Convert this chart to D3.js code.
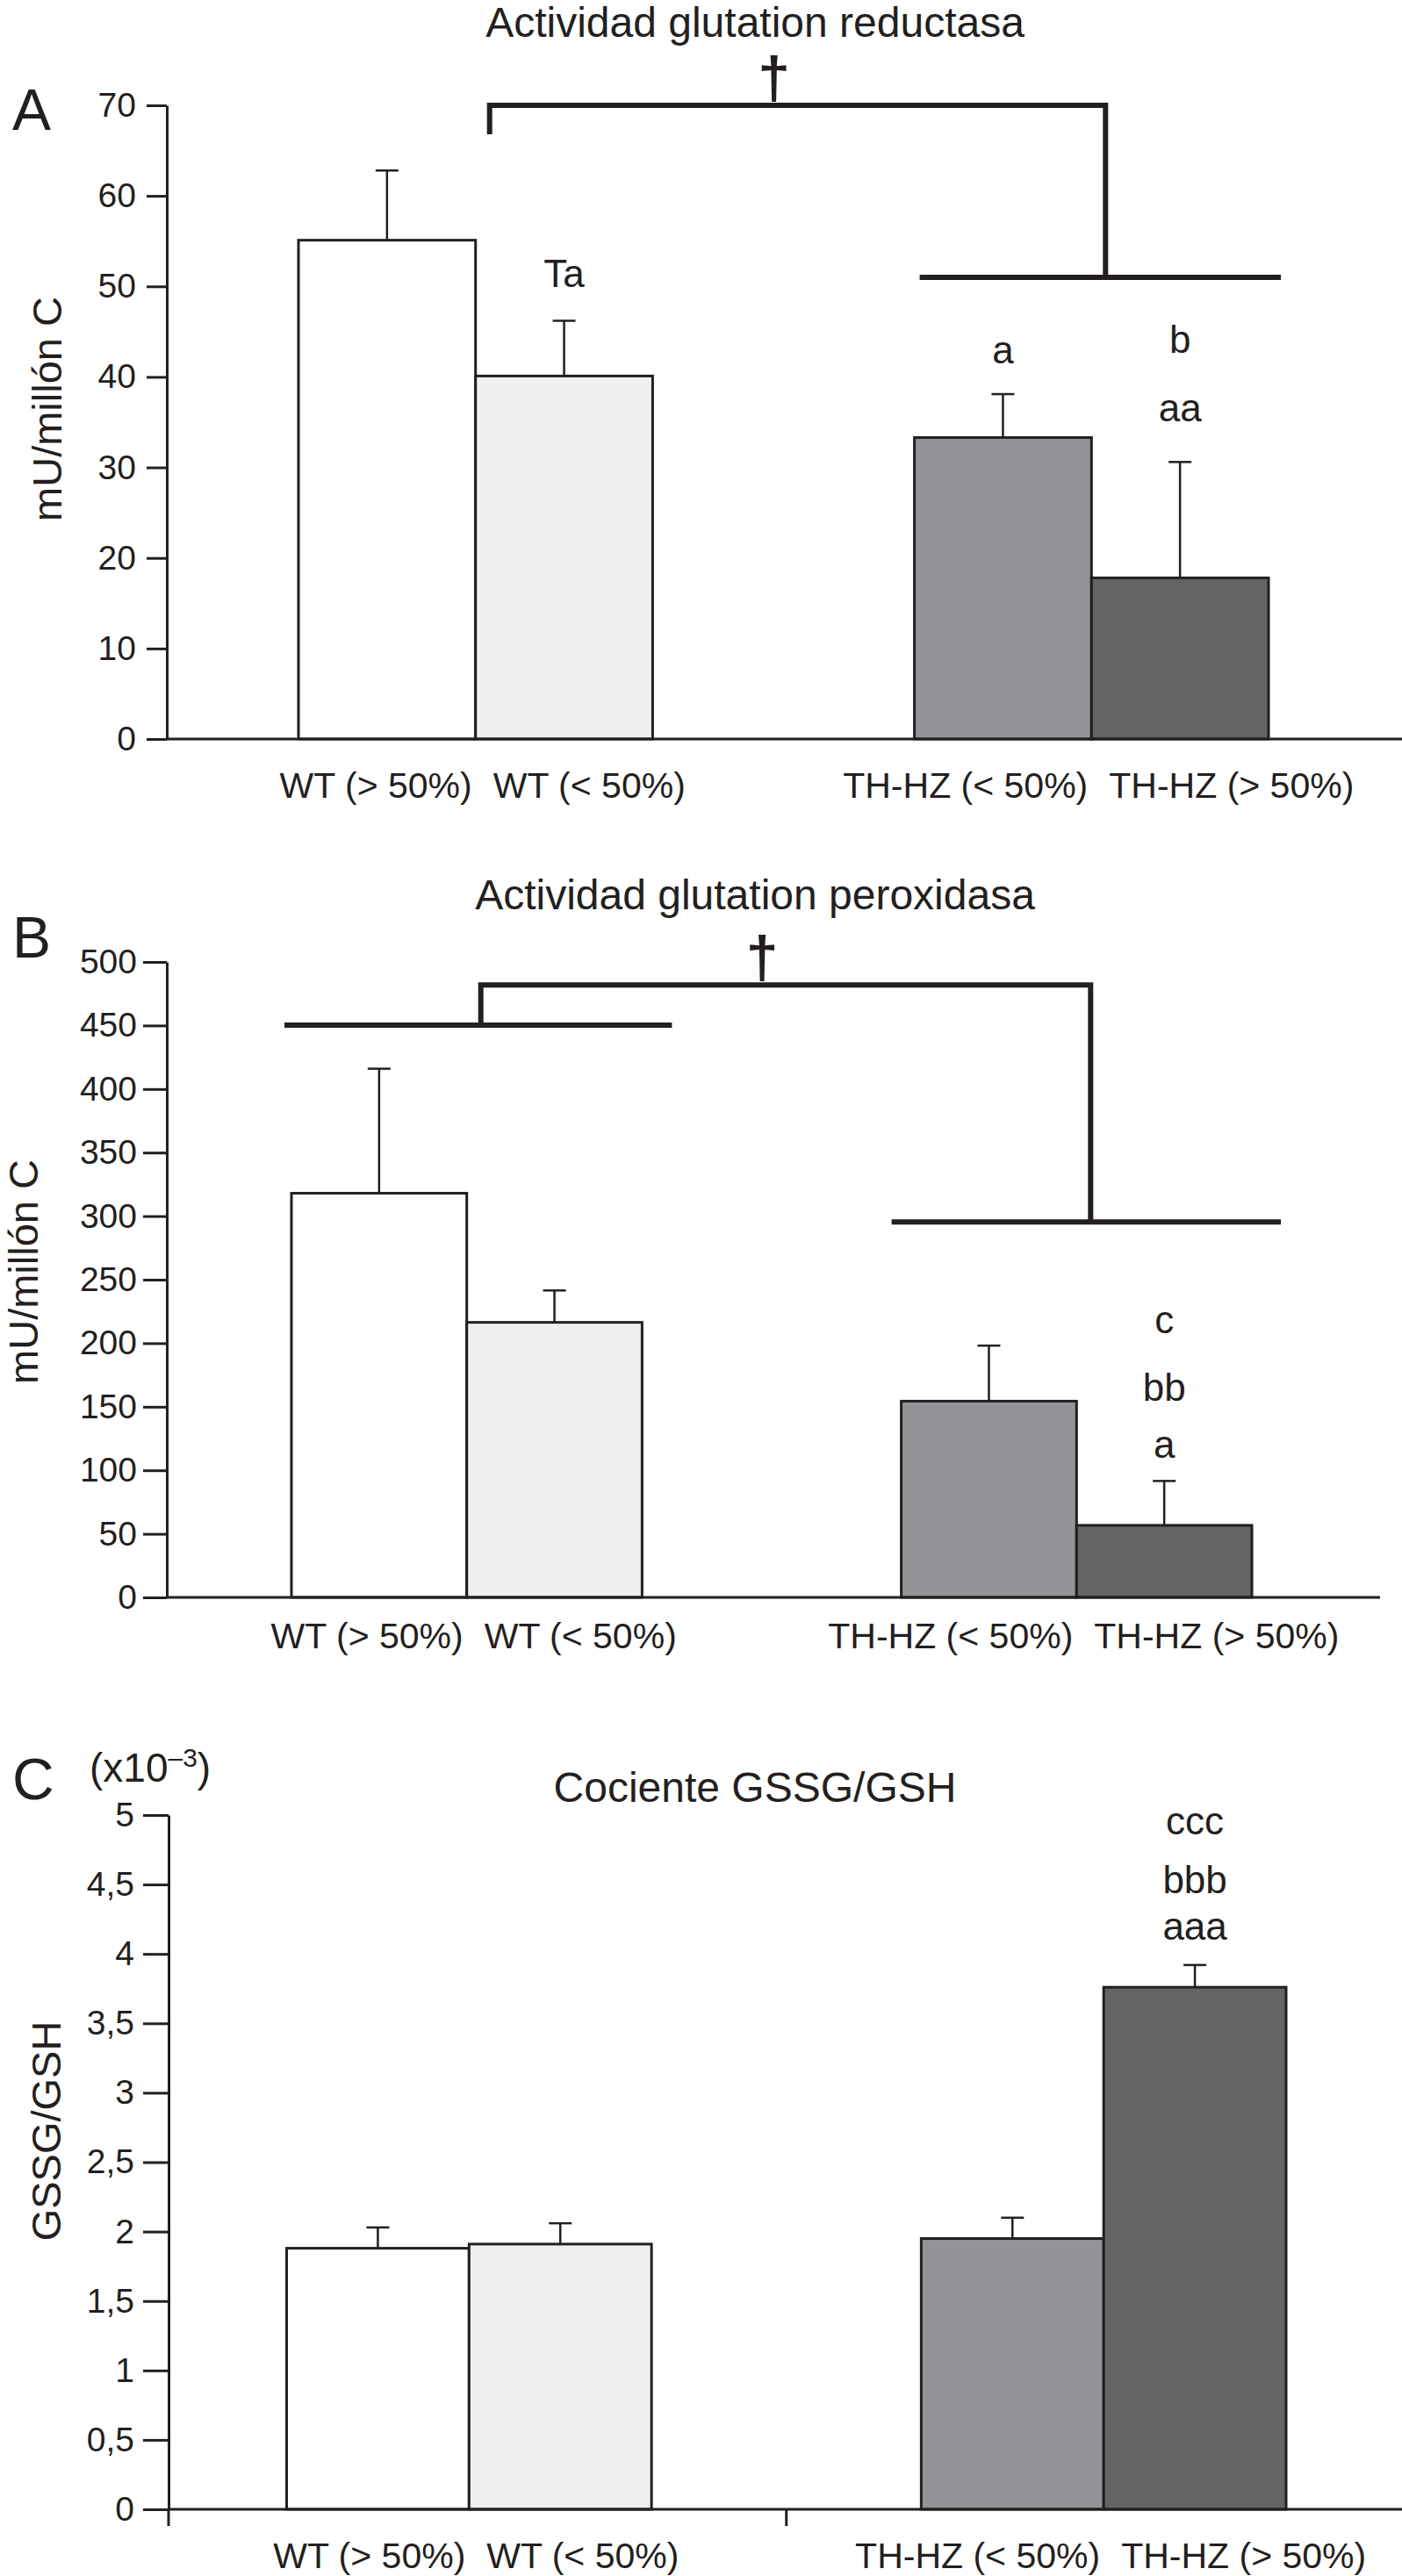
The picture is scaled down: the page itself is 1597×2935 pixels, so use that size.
<!DOCTYPE html>
<html>
<head>
<meta charset="utf-8">
<script src="https://cdn.jsdelivr.net/npm/d3@7"></script>
<style>
body { margin: 0; background: #fff; }
text { font-family: "Liberation Sans", Arial, Helvetica, sans-serif; fill: #231f20; }
</style>
</head>
<body>
<svg id="chart" width="1597" height="2935"></svg>
<script>
var groups = ["WT (> 50%)", "WT (< 50%)", "TH-HZ (< 50%)", "TH-HZ (> 50%)"];
var genotype = ["WT", "WT", "TH-HZ", "TH-HZ"];
var fills = ["#ffffff", "#eff0ef", "#939497", "#636466"];

// A: glutation reductasa (mU/millon C)
var gredMean = [55.1, 40.1, 33.3, 17.8];
var gredErr = [7.7, 6.1, 4.8, 12.8];
var gredTicks = [0, 10, 20, 30, 40, 50, 60, 70];
// B: glutation peroxidasa (mU/millon C)
var gperMean = [318, 216.4, 154.4, 56.7];
var gperErr = [98, 25.1, 43.7, 34.9];
var gperTicks = [0, 50, 100, 150, 200, 250, 300, 350, 400, 450, 500];
// C: GSSG/GSH (x10-3)
var ratioMean = [1.88, 1.91, 1.95, 3.76];
var ratioErr = [0.15, 0.15, 0.15, 0.16];
var ratioTicks = [0, 0.5, 1, 1.5, 2, 2.5, 3, 3.5, 4, 4.5, 5];

// significance letters: bar index, text, height in axis units
var gredNotes = [[1, "Ta", 49.9], [2, "a", 41.5], [3, "aa", 35.05], [3, "b", 42.7]];
var gperNotes = [[3, "a", 110.1], [3, "bb", 154.7], [3, "c", 208.1]];
var ratioNotes = [[3, "aaa", 4.10], [3, "bbb", 4.44], [3, "ccc", 4.86]];

var ink = "#231f20";
var svg = d3.select("#chart");
var es = d3.formatLocale({decimal: ",", thousands: ".", grouping: [3], currency: ["", " €"]});

var panels = [
    {letter: "A", letterY: 148, title: "Actividad glutation reductasa", titleY: 42,
     ylabel: "mU/millón C", ylabelX: 70, ylabelY: 466,
     mean: gredMean, err: gredErr, ticks: gredTicks, fmt: d3.format("d"), notes: gredNotes,
     y: d3.scaleLinear().domain([0, 70]).range([842, 120]),
     xRange: [340, 1445], axisX: 190, axisEnd: 1597, tickSize: 23, pad: 12, labelDy: 67,
     bracket: {top: 70, left: {v: 66.8}, right: {v: 51.0, ext: [-6, 14]}}},
    {letter: "B", letterY: 1091, title: "Actividad glutation peroxidasa", titleY: 1036,
     ylabel: "mU/millón C", ylabelX: 43, ylabelY: 1449,
     mean: gperMean, err: gperErr, ticks: gperTicks, fmt: d3.format("d"), notes: gperNotes,
     y: d3.scaleLinear().domain([0, 500]).range([1820, 1096]),
     xRange: [332, 1426], axisX: 190, axisEnd: 1572, tickSize: 27, pad: 7, labelDy: 58,
     bracket: {top: 481.8, left: {v: 450.2, ext: [8, 34]}, right: {v: 295.4, ext: [11, 33]}}},
    {letter: "C", letterY: 2050, title: "Cociente GSSG/GSH", titleY: 2053,
     ylabel: "GSSG/GSH", ylabelX: 69, ylabelY: 2428,
     mean: ratioMean, err: ratioErr, ticks: ratioTicks, fmt: es.format(".1~f"), notes: ratioNotes,
     y: d3.scaleLinear().domain([0, 5]).range([2859, 2068]),
     xRange: [326.5, 1465], axisX: 192, axisEnd: 1597, tickSize: 29, pad: 10, labelDy: 67,
     split: true, exponent: true}
];

function drawPanel(p) {
    var g = svg.append("g");
    var outer = d3.scaleBand().domain(["WT", "TH-HZ"]).range(p.xRange).paddingInner(0.425);
    var inner = d3.scaleBand().domain([0, 1]).range([0, outer.bandwidth()]);
    var bw = inner.bandwidth();
    var x = (i) => outer(genotype[i]) + inner(i % 2);
    var y0 = p.y(0);

    // bars
    g.selectAll("rect.bar").data(p.mean).enter().append("rect")
        .attr("class", "bar")
        .attr("x", (d, i) => x(i))
        .attr("y", (d) => p.y(d))
        .attr("width", bw)
        .attr("height", (d) => y0 - p.y(d))
        .attr("fill", (d, i) => fills[i])
        .attr("stroke", ink)
        .attr("stroke-width", 3);

    // error bars (upper only)
    var eb = g.selectAll("g.err").data(p.mean).enter().append("g").attr("class", "err")
        .attr("stroke", ink).attr("stroke-width", 2.5);
    eb.append("line")
        .attr("x1", (d, i) => x(i) + bw / 2).attr("x2", (d, i) => x(i) + bw / 2)
        .attr("y1", (d) => p.y(d)).attr("y2", (d, i) => p.y(d + p.err[i]));
    eb.append("line")
        .attr("x1", (d, i) => x(i) + bw / 2 - 13).attr("x2", (d, i) => x(i) + bw / 2 + 13)
        .attr("y1", (d, i) => p.y(d + p.err[i])).attr("y2", (d, i) => p.y(d + p.err[i]));

    // y axis
    var axis = d3.axisLeft(p.y).tickValues(p.ticks).tickFormat(p.fmt)
        .tickSize(p.tickSize).tickSizeOuter(0).tickPadding(p.pad);
    g.append("g")
        .attr("transform", "translate(" + p.axisX + ",0)")
        .call(axis)
        .attr("font-size", 39)
        .attr("font-family", "Liberation Sans, Arial, sans-serif")
        .attr("color", ink)
        .call((a) => a.selectAll("line, path").attr("stroke-width", 3));

    // baseline
    g.append("line")
        .attr("x1", p.axisX).attr("x2", p.axisEnd)
        .attr("y1", y0).attr("y2", y0)
        .attr("stroke", ink).attr("stroke-width", 3);

    if (p.split) {
        var mid = (outer("WT") + outer.bandwidth() + outer("TH-HZ")) / 2;
        g.append("path")
            .attr("d", "M" + p.axisX + "," + y0 + "v19M" + mid + "," + y0 + "v19")
            .attr("stroke", ink).attr("stroke-width", 3);
    }

    // category labels, paired around the boundary of each genotype
    g.selectAll("text.cat").data(groups).enter().append("text")
        .attr("class", "cat")
        .attr("x", (d, i) => outer(genotype[i]) + bw + 8 + (i % 2 ? 12 : -12))
        .attr("y", y0 + p.labelDy)
        .attr("text-anchor", (d, i) => i % 2 ? "start" : "end")
        .attr("font-size", 41)
        .text((d) => d);

    // significance letters
    g.selectAll("text.note").data(p.notes).enter().append("text")
        .attr("class", "note")
        .attr("x", (d) => x(d[0]) + bw / 2)
        .attr("y", (d) => p.y(d[2]))
        .attr("text-anchor", "middle")
        .attr("font-size", 44)
        .text((d) => d[1]);

    // bracket between genotypes
    if (p.bracket) {
        var b = p.bracket;
        var stubL = outer("WT") + bw + 16;
        var stubR = outer("TH-HZ") + bw + 16;
        var d = "M" + stubL + "," + p.y(b.left.v) + "V" + p.y(b.top) + "H" + stubR + "V" + p.y(b.right.v);
        [["WT", b.left], ["TH-HZ", b.right]].forEach((s) => {
            if (s[1].ext)
                d += "M" + (outer(s[0]) - s[1].ext[0]) + "," + p.y(s[1].v) +
                     "H" + (outer(s[0]) + outer.bandwidth() + s[1].ext[1]);
        });
        g.append("path").attr("d", d).attr("fill", "none")
            .attr("stroke", ink).attr("stroke-width", 6).attr("stroke-linejoin", "miter");
        g.append("text")
            .attr("x", (stubL + stubR) / 2 - 27)
            .attr("y", p.y(b.top) - 9)
            .attr("text-anchor", "middle")
            .attr("font-size", 66)
            .attr("font-weight", "bold")
            .text("†");
    }

    // title, panel letter, axis label
    g.append("text").attr("x", 860).attr("y", p.titleY)
        .attr("text-anchor", "middle").attr("font-size", 48).text(p.title);
    g.append("text").attr("x", 14).attr("y", p.letterY)
        .attr("font-size", 66).text(p.letter);
    g.append("text")
        .attr("transform", "translate(" + p.ylabelX + "," + p.ylabelY + ") rotate(-90)")
        .attr("text-anchor", "middle").attr("font-size", 47).text(p.ylabel);

    if (p.exponent) {
        var t = g.append("text").attr("x", 102).attr("y", 2030).attr("font-size", 46);
        t.append("tspan").text("(x10");
        t.append("tspan").attr("font-size", 30).attr("dy", -17).text("–3");
        t.append("tspan").attr("dy", 17).text(")");
    }
}

panels.forEach(drawPanel);
</script>
</body>
</html>
